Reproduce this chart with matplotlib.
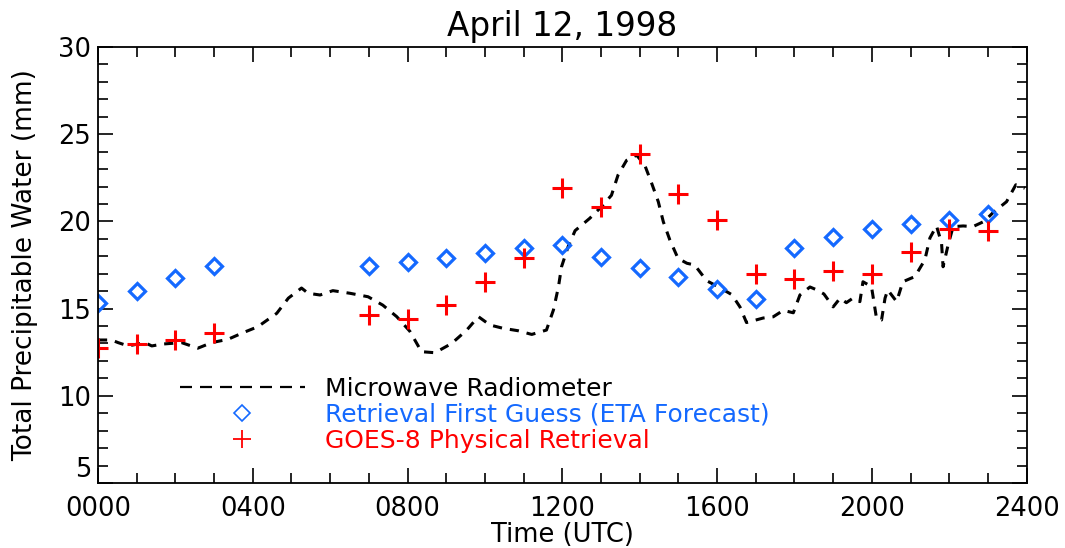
import numpy as np
import matplotlib
matplotlib.use('Agg')
import matplotlib.pyplot as plt
from matplotlib.ticker import MultipleLocator, FuncFormatter

# Microwave radiometer (dashed line)
mw_time = [0, 35, 52, 78, 121, 139, 168, 216, 258, 294, 336, 375, 413, 462, 492,
           526, 543, 574, 607, 651, 698, 736, 772, 806, 836, 871, 914, 953, 983,
           1013, 1047, 1086, 1121, 1159, 1177, 1190, 1198, 1215, 1233, 1271, 1301,
           1327, 1344, 1366, 1392, 1413, 1431, 1448, 1461, 1478, 1499, 1522, 1542,
           1573, 1607, 1638, 1659, 1676, 1719, 1745, 1771, 1797, 1814, 1840, 1858,
           1876, 1900, 1918, 1934, 1951, 1969, 1977, 1999, 2003, 2012, 2025, 2034,
           2041, 2064, 2080, 2102, 2111, 2137, 2150, 2167, 2180, 2184, 2197, 2210,
           2236, 2261, 2290, 2313, 2348, 2372, 2395]
mw_tpw = [13.2, 13.2, 13.05, 12.86, 13.05, 12.86, 12.97, 13.05, 12.73, 13.05, 13.24,
          13.62, 13.96, 14.73, 15.6, 16.18, 15.88, 15.78, 16.03, 15.88, 15.68, 15.2,
          14.54, 13.7, 12.53, 12.47, 13.0, 13.77, 14.54, 14.06, 13.87, 13.73, 13.52,
          13.77, 14.92, 16.25, 17.4, 18.55, 19.47, 20.18, 20.84, 21.5, 22.66, 23.5,
          23.8, 23.23, 22.18, 21.13, 19.98, 18.93, 17.88, 17.6, 17.5, 16.6, 16.2,
          15.8, 15.1, 14.2, 14.46, 14.53, 14.9, 14.76, 15.78, 16.24, 16.07, 15.84,
          15.1, 15.6, 15.34, 15.6, 15.4, 16.54, 16.26, 15.7, 14.44, 14.35, 15.6,
          16.07, 15.4, 16.54, 16.75, 16.83, 17.8, 19.05, 19.74, 18.76, 17.4, 18.65,
          19.7, 19.74, 19.7, 20.0, 20.5, 21.13, 22.1, 21.9]

# Retrieval first guess (ETA forecast) - diamonds
eta_time = [0, 100, 200, 300, 700, 800, 900, 1000, 1100, 1200, 1300, 1400, 1500,
            1600, 1700, 1800, 1900, 2000, 2100, 2200, 2300]
eta_tpw = [15.3, 16.0, 16.75, 17.45, 17.45, 17.65, 17.9, 18.2, 18.45, 18.65, 17.95,
           17.35, 16.8, 16.15, 15.55, 18.5, 19.1, 19.55, 19.85, 20.1, 20.4]

# GOES-8 physical retrieval - plus signs
goes_time = [0, 100, 200, 300, 700, 800, 900, 1000, 1100, 1200, 1300, 1400, 1500,
             1600, 1700, 1800, 1900, 2000, 2100, 2200, 2300]
goes_tpw = [12.75, 12.95, 13.2, 13.6, 14.65, 14.4, 15.2, 16.5, 17.9, 21.9, 20.8,
            23.85, 21.6, 20.1, 17.0, 16.7, 17.15, 17.0, 18.25, 19.55, 19.45]

blue = '#1469ff'
red = '#ff0000'

plt.rcParams['font.family'] = ['DejaVu Sans']

fig = plt.figure(figsize=(10.65, 5.48), dpi=100)
ax = fig.add_axes([0.092, 0.1186, 0.872, 0.7956])

ax.plot(mw_time, mw_tpw, color='black', lw=2.2, ls=(0, (3.0, 2.6)),
        label='Microwave Radiometer')
ax.plot(eta_time, eta_tpw, ls='none', marker='D', ms=8.5, mfc='none', mec=blue,
        mew=2.3, label='Retrieval First Guess (ETA Forecast)')
ax.plot(goes_time, goes_tpw, ls='none', marker='+', ms=14, mec=red, mew=2.2,
        label='GOES-8 Physical Retrieval')

ax.set_xlim(0, 2400)
ax.set_ylim(5, 30)
ax.xaxis.set_major_locator(MultipleLocator(400))
ax.xaxis.set_minor_locator(MultipleLocator(100))
ax.yaxis.set_major_locator(MultipleLocator(5))
ax.yaxis.set_minor_locator(MultipleLocator(1))
ax.xaxis.set_major_formatter(FuncFormatter(lambda v, p: '%04d' % int(v)))

ax.tick_params(which='both', direction='in', top=True, right=True,
               width=1.2, labelsize=18.5)
ax.tick_params(which='major', length=11)
ax.tick_params(which='minor', length=7)
ax.tick_params(axis='x', pad=9)
ax.tick_params(axis='y', pad=5)
for s in ax.spines.values():
    s.set_linewidth(1.3)

# lowest y label sits just above the corner, as in the original
ax.yaxis.get_major_ticks()[1].label1.set_va('bottom')

ax.set_xlabel('Time (UTC)', fontsize=18.5, labelpad=0)
ax.set_ylabel('Total Precipitable Water (mm)', fontsize=19, labelpad=14)
ax.set_title('April 12, 1998', fontsize=23.5, pad=8)

leg = ax.legend(loc='upper left', bbox_to_anchor=(0.088, 0.243), frameon=False,
                fontsize=18, handlelength=5.0, handletextpad=0.8, labelspacing=0.07,
                borderpad=0, borderaxespad=0, labelcolor=['black', blue, red])
h_mw, h_eta, h_goes = leg.legend_handles
h_mw.set_linewidth(1.6)
h_mw.set_dashes((5.4, 3.6))
h_eta.set_markersize(8)
h_eta.set_markeredgewidth(1.2)
h_goes.set_markersize(13)
h_goes.set_markeredgewidth(1.3)

fig.savefig('out.png', dpi=100)
